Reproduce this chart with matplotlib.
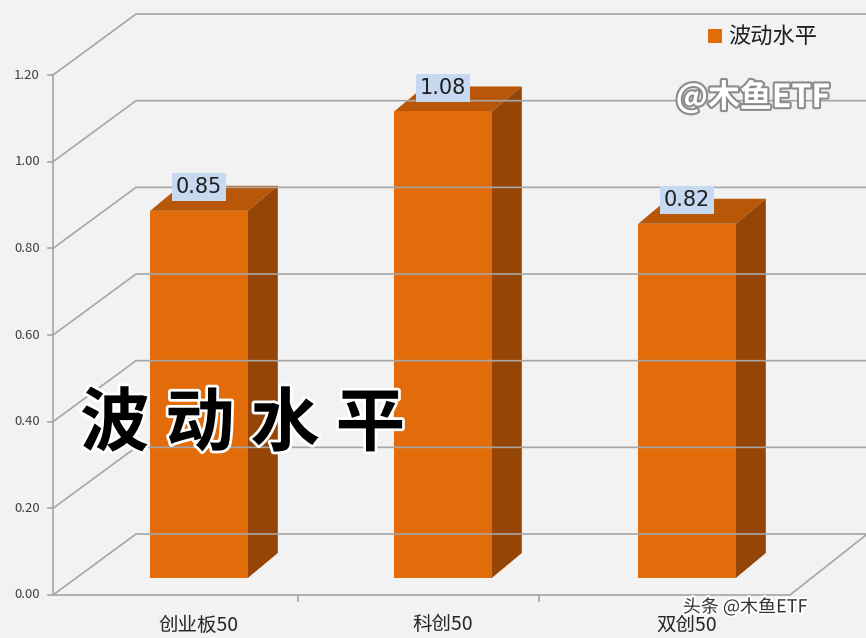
import matplotlib
matplotlib.use("Agg")
import matplotlib.pyplot as plt
from matplotlib.patches import Rectangle, Polygon
import matplotlib.patheffects as pe

plt.rcParams['font.family'] = ['Noto Sans CJK SC', 'DejaVu Sans']

categories = ["创业板50", "科创50", "双创50"]
values = [0.85, 1.08, 0.82]
yticks = [0.0, 0.2, 0.4, 0.6, 0.8, 1.0, 1.2]
ytick_labels = ["0.00", "0.20", "0.40", "0.60", "0.80", "1.00", "1.20"]
series_name = "波动水平"

W, H = 866, 638
fig = plt.figure(figsize=(W/100, H/100), dpi=100, facecolor="#f2f2f2")
ax = fig.add_axes([0, 0, 1, 1])
ax.set_facecolor("#f2f2f2")
CX0, CSP = 199, 244
BASE, SC = 578, 432
def X(px): return (px - CX0) / CSP
def Y(py): return (BASE - py) / SC
ax.set_xlim(X(0), X(W))
ax.set_ylim(Y(H), Y(0))
ax.axis("off")

gc = "#a6a6a6"
ax_px = 53
odx, ody = 83, -61
for v, lab in zip(yticks, ytick_labels):
    py = 595 - 433.3 * v
    if v > 0:
        ax.plot([X(ax_px), X(ax_px + odx), X(W)], [Y(py), Y(py + ody), Y(py + ody)], color=gc, lw=1.2)
    ax.plot([X(ax_px - 5), X(ax_px)], [Y(py), Y(py)], color=gc, lw=1.2)
    ax.text(X(40), Y(py), lab, ha="right", va="center", fontsize=9.5, color="#404040")
ax.plot([X(ax_px), X(ax_px), X(790), X(W)], [Y(595 - 433.3*1.2), Y(595), Y(595), Y(535)], color=gc, lw=1.2)
ax.plot([X(ax_px), X(ax_px + odx), X(W)], [Y(595), Y(595 + ody), Y(595 + ody)], color=gc, lw=1.2)
for tx in [298, 539]:
    ax.plot([X(tx), X(tx)], [Y(595), Y(601)], color=gc, lw=1.2)

bw = 0.4
ddx, ddy = 30 / CSP, 25 / SC
for i, (c, v) in enumerate(zip(categories, values)):
    l, r = i - bw/2, i + bw/2
    ax.add_patch(Polygon([(l, v), (r, v), (r + ddx, v + ddy), (l + ddx, v + ddy)], closed=True, color="#b85707", lw=0))
    ax.add_patch(Polygon([(r, 0), (r + ddx, ddy), (r + ddx, v + ddy), (r, v)], closed=True, color="#954505", lw=0))
    ax.add_patch(Rectangle((l, 0), bw, v, color="#e36c0a", lw=0))
    ax.text(i, v + 0.055, f"{v:.2f}", ha="center", va="center", fontsize=15, color="#1f1f1f",
            family=["DejaVu Sans"],
            bbox=dict(boxstyle="square,pad=0.2", fc="#c6d9f1", ec="none"))
    ax.text(i, Y(625), c, ha="center", va="center", fontsize=14, color="#262626")

ax.add_patch(Rectangle((X(708), Y(43)), 14/CSP, 14/SC, color="#e36c0a", lw=0))
ax.text(X(728), Y(36), series_name, ha="left", va="center", fontsize=16, color="#1f1f1f")

ax.text(X(80), Y(425), "波 动 水 平", ha="left", va="center", fontsize=50, fontweight="heavy",
        color="black", style="italic",
        path_effects=[pe.withStroke(linewidth=4, foreground="white")])
ax.text(X(753), Y(97), "@木鱼ETF", ha="center", va="center", fontsize=23, fontweight="bold",
        style="italic", color="white",
        path_effects=[pe.withStroke(linewidth=3, foreground="#8c8c8c")])
ax.text(X(745), Y(607), "头条 @木鱼ETF", ha="center", va="center", fontsize=13, color="#333333",
        path_effects=[pe.withStroke(linewidth=3, foreground="white")])

fig.savefig("out.png", dpi=100, facecolor=fig.get_facecolor())
